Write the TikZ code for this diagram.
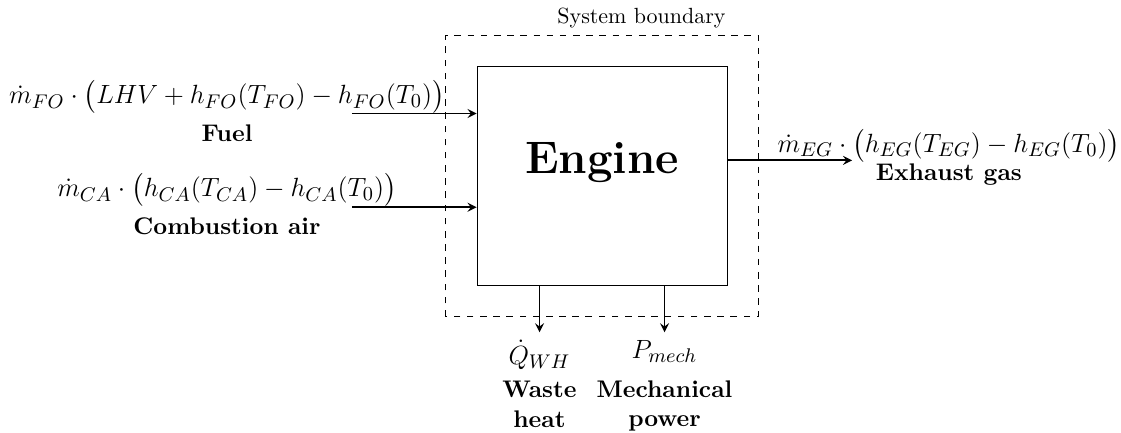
\documentclass[tikz,border=0pt]{standalone}
\usepackage{amsmath,amssymb}
\usepackage{tikz}
\usetikzlibrary{positioning}

\begin{document}
\begin{tikzpicture}[>=stealth,
                engine/.style={draw, minimum width=4cm, minimum height=3.5cm},
                flow/.style={align=center, font=\fontsize{12.5}{15}\selectfont},
                flowlabel/.style={font=\fontsize{10.95}{13.6}\selectfont\bfseries}
                ]
                \useasboundingbox (-9.632,-4.096) rectangle (8.304,2.816);
                \node[engine] (eng) at (0,0) {};
                \node[font=\huge\bfseries] (engtxt) at (0,0.22) {Engine};
                \draw[dashed] (-2.5,-2.25) rectangle (2.5,2.25);
                \coordinate (sbne) at (2.1,2.25);
                \node[anchor=south east] (sb) at (sbne) {System boundary};
                % inputs
                \node[flow] (fo) at (-6,1.04) {$\dot{m}_{FO}\cdot\big(LHV+h_{FO}(T_{FO})-h_{FO}(T_0)\big)$\\[2pt]{\fontsize{10.95}{13.6}\selectfont\bfseries Fuel}};
                \node[flow] (ca) at (-6,-0.45) {$\dot{m}_{CA}\cdot\big(h_{CA}(T_{CA})-h_{CA}(T_0)\big)$\\[2pt]{\fontsize{10.95}{13.6}\selectfont\bfseries Combustion air}};
                \coordinate (foin) at (-4,1);
                \coordinate (cain) at (-4,-0.5);
                \draw[->, thick] (foin) -- (foin -| eng.west);
                \draw[->, thick] (cain) -- (cain -| eng.west);
                % outputs
                \node[flow] (eg) at (5.55,0.3) {$\dot{m}_{EG}\cdot\big(h_{EG}(T_{EG})-h_{EG}(T_0)\big)$\\[-2pt]{\fontsize{10.95}{13.6}\selectfont\bfseries Exhaust gas}};
                \coordinate (egout) at (4,0.25);
                \draw[->, thick] (egout -| eng.east) -- (egout);
                \coordinate (whout) at (-1,-2.5);
                \coordinate (pmout) at (1,-2.5);
                \draw[->, thick] (whout |- eng.south) -- (whout);
                \draw[->, thick] (pmout |- eng.south) -- (pmout);
                \node[flow, anchor=north] (wh) at (whout) {$\dot{Q}_{WH}$\\[0pt]{\fontsize{10.95}{12.5}\selectfont\bfseries Waste}\\[-1pt]{\fontsize{10.95}{12.5}\selectfont\bfseries heat}};
                \node[flow, anchor=north] (pm) at (pmout) {$P_{mech}$\\[3pt]{\fontsize{10.95}{12.5}\selectfont\bfseries Mechanical}\\[-2pt]{\fontsize{10.95}{12.5}\selectfont\bfseries power}};
\end{tikzpicture}
\end{document}
